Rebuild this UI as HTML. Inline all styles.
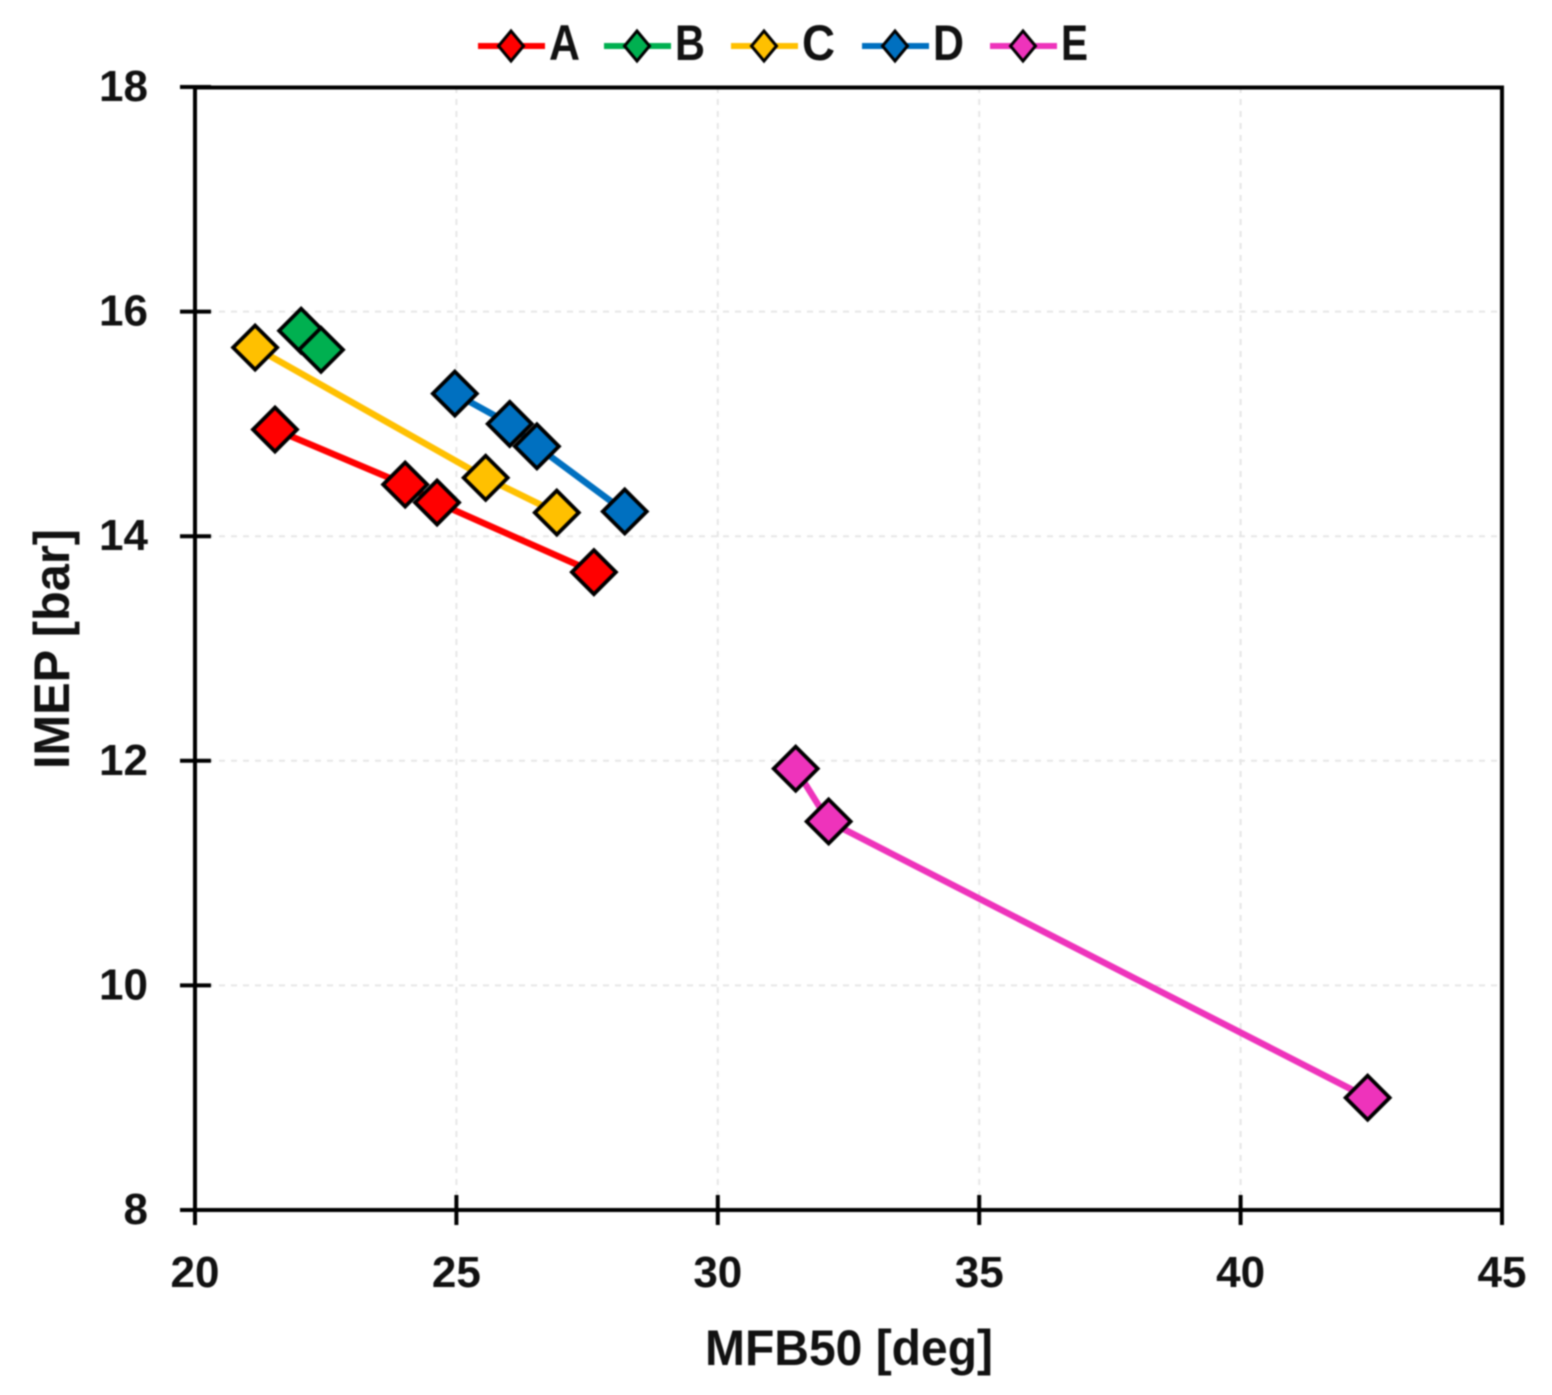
<!DOCTYPE html>
<html>
<head>
<meta charset="utf-8">
<title>IMEP vs MFB50</title>
<style>
html,body{margin:0;padding:0;background:#fff;width:1552px;height:1395px;overflow:hidden}
svg{display:block;filter:blur(0.7px)}
text{font-family:"Liberation Sans",sans-serif;font-weight:bold;fill:#111}
</style>
</head>
<body>
<svg id="chart" width="1552" height="1395" viewBox="0 0 1552 1395" xmlns="http://www.w3.org/2000/svg">
  <g id="grid"></g>
  <g id="series"></g>
  <rect x="195" y="87.5" width="1307" height="1122.5" fill="none" stroke="#000" stroke-width="4"/>
  <g id="ticks"></g>
  <g id="legend"></g>
  <text x="705" y="1365" font-size="50" textLength="288" lengthAdjust="spacingAndGlyphs">MFB50 [deg]</text>
  <text transform="translate(69,769) rotate(-90)" font-size="50" textLength="240" lengthAdjust="spacingAndGlyphs">IMEP [bar]</text>
</svg>
<script>
const xTicks = [20, 25, 30, 35, 40, 45];
const yTicks = [8, 10, 12, 14, 16, 18];
const seriesNames = ['A', 'B', 'C', 'D', 'E'];
const seriesColors = ['#ff0000', '#00b050', '#ffc000', '#0070c0', '#ee33bb'];
const seriesA_x = [21.53, 24.02, 24.63, 27.63];
const seriesA_y = [14.95, 14.46, 14.30, 13.68];
const seriesB_x = [22.03, 22.41];
const seriesB_y = [15.83, 15.66];
const seriesC_x = [21.15, 25.56, 26.92];
const seriesC_y = [15.68, 14.52, 14.21];
const seriesD_x = [24.97, 26.02, 26.54, 28.22];
const seriesD_y = [15.27, 15.0, 14.8, 14.22];
const seriesE_x = [31.49, 32.12, 42.43];
const seriesE_y = [11.93, 11.46, 9.0];
const allX = [seriesA_x, seriesB_x, seriesC_x, seriesD_x, seriesE_x];
const allY = [seriesA_y, seriesB_y, seriesC_y, seriesD_y, seriesE_y];

const NS = 'http://www.w3.org/2000/svg';
const sx = v => 195 + (v - 20) * (1502 - 195) / 25;
const sy = v => 1210 - (v - 8) * (1210 - 87) / 10;
function mk(tag, parent, attrs) {
  const el = document.createElementNS(NS, tag);
  for (const k in attrs) el.setAttribute(k, attrs[k]);
  parent.appendChild(el);
  return el;
}
const gGrid = document.getElementById('grid');
const gTicks = document.getElementById('ticks');
const gSeries = document.getElementById('series');
const gLegend = document.getElementById('legend');

xTicks.forEach(t => {
  const x = sx(t);
  if (t > 20 && t < 45) {
    const g = mk('line', gGrid, {x1: x, x2: x, y1: 87, y2: 1210, stroke: '#e6e6e6', 'stroke-width': 2, 'stroke-dasharray': '6 6'});
    
    
  }
  const m = mk('line', gTicks, {x1: x, x2: x, y1: 1195, y2: 1225, stroke: '#000', 'stroke-width': 4});
  
  
  const l = mk('text', gTicks, {x: x, y: 1287, 'text-anchor': 'middle', 'font-size': 44});
  l.textContent = t;
  
  
});
yTicks.forEach(t => {
  const y = sy(t);
  if (t > 8 && t < 18) {
    const g = mk('line', gGrid, {x1: 195, x2: 1502, y1: y, y2: y, stroke: '#e6e6e6', 'stroke-width': 2, 'stroke-dasharray': '6 6'});
    
    
  }
  const m = mk('line', gTicks, {x1: 180, x2: 211, y1: y, y2: y, stroke: '#000', 'stroke-width': 4});
  
  
  const l = mk('text', gTicks, {x: 148, y: y + 14, 'text-anchor': 'end', 'font-size': 44});
  l.textContent = t;
  
  
});
function diamond(parent, cx, cy, rx, ry, fill, sw) {
  return mk('polygon', parent, {
    points: [[cx, cy - ry], [cx + rx, cy], [cx, cy + ry], [cx - rx, cy]].join(' '),
    fill: fill, stroke: '#000', 'stroke-width': sw, 'stroke-linejoin': 'miter'
  });
}
seriesNames.forEach((name, i) => {
  const g = mk('g', gSeries, {});
  
  
  const pts = allX[i].map((v, j) => sx(v) + ',' + sy(allY[i][j])).join(' ');
  const line = mk('polyline', g, {points: pts, fill: 'none', stroke: seriesColors[i], 'stroke-width': 6.5});
  
  
  allX[i].forEach((v, j) => {
    const d = diamond(g, sx(v), sy(allY[i][j]), 22, 22, seriesColors[i], 3.8);
    
    
  });
});
const legendStartX = [478, 604, 731, 862, 990];
seriesNames.forEach((name, i) => {
  const x0 = legendStartX[i];
  const g = mk('g', gLegend, {});
  
  
  mk('line', g, {x1: x0, x2: x0 + 67, y1: 46, y2: 46, stroke: seriesColors[i], 'stroke-width': 6});
  diamond(g, x0 + 33, 46, 12.5, 15, seriesColors[i], 3);
  const t = mk('text', g, {x: x0 + 71, y: 60, 'font-size': 50, textLength: [31, 30, 33, 31, 27][i], lengthAdjust: 'spacingAndGlyphs'});
  t.textContent = name;
  
  
});
</script>
</body>
</html>
